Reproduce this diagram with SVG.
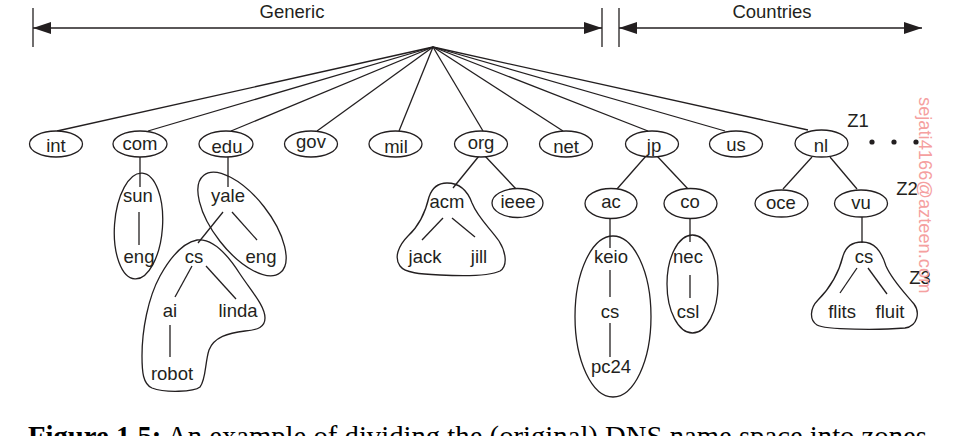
<svg xmlns="http://www.w3.org/2000/svg" width="970" height="436" viewBox="0 0 970 436">
<style>
  .ln { stroke: #231f20; stroke-width: 1.3; fill: none; }
  .nd { stroke: #231f20; stroke-width: 1.3; fill: #ffffff; }
  .zn { stroke: #231f20; stroke-width: 1.3; fill: none; }
  .t { font-family: "Liberation Sans", Arial, sans-serif; font-size: 18.5px; fill: #231f20; text-anchor: middle; }
  .z { font-family: "Liberation Sans", Arial, sans-serif; font-size: 18.5px; fill: #231f20; text-anchor: middle; }
  .wm { font-family: "Liberation Sans", Arial, sans-serif; font-size: 18.3px; fill: #f5a0a0; }
  .cap { font-family: "Liberation Serif", "Times New Roman", serif; font-size: 28.7px; fill: #000000; }
</style>
<defs>
  <marker id="ah" viewBox="0 0 18 12" refX="18" refY="6" markerWidth="18" markerHeight="12" markerUnits="userSpaceOnUse" orient="auto-start-reverse">
    <path d="M0,0 L18,6 L0,12 Z" fill="#231f20"/>
  </marker>
</defs>
<rect x="0" y="0" width="970" height="436" fill="#ffffff"/>

<g id="scope-arrows">
  <line class="ln" x1="33" y1="8" x2="33" y2="47"/>
  <line class="ln" x1="602" y1="8" x2="602" y2="47"/>
  <line class="ln" x1="619" y1="8" x2="619" y2="47"/>
  <line class="ln" x1="33" y1="28" x2="602" y2="28" marker-start="url(#ah)" marker-end="url(#ah)"/>
  <line class="ln" x1="619" y1="28" x2="922" y2="28" marker-start="url(#ah)" marker-end="url(#ah)"/>
  <text class="t" x="292" y="18">Generic</text>
  <text class="t" x="772" y="18">Countries</text>
</g>

<g id="connectors">
  <line class="ln" x1="433" y1="47" x2="57" y2="131"/>
  <line class="ln" x1="433" y1="47" x2="148" y2="131"/>
  <line class="ln" x1="433" y1="47" x2="231" y2="131"/>
  <line class="ln" x1="433" y1="47" x2="317" y2="131"/>
  <line class="ln" x1="433" y1="47" x2="399" y2="131"/>
  <line class="ln" x1="433" y1="47" x2="483" y2="131"/>
  <line class="ln" x1="433" y1="47" x2="563" y2="131"/>
  <line class="ln" x1="433" y1="47" x2="648" y2="131"/>
  <line class="ln" x1="433" y1="47" x2="725" y2="131"/>
  <line class="ln" x1="433" y1="47" x2="808" y2="130"/>
  <!-- com subtree -->
  <line class="ln" x1="140" y1="157" x2="140" y2="187"/>
  <line class="ln" x1="139" y1="212" x2="139" y2="245"/>
  <!-- edu subtree -->
  <line class="ln" x1="228" y1="157" x2="228" y2="187"/>
  <line class="ln" x1="223" y1="212" x2="198" y2="243"/>
  <line class="ln" x1="232" y1="212" x2="257" y2="240"/>
  <line class="ln" x1="192" y1="266" x2="175" y2="297"/>
  <line class="ln" x1="206" y1="266" x2="236" y2="299"/>
  <line class="ln" x1="170" y1="325" x2="170" y2="357"/>
  <!-- org subtree -->
  <line class="ln" x1="479" y1="156" x2="453" y2="188"/>
  <line class="ln" x1="485" y1="156" x2="517" y2="190"/>
  <line class="ln" x1="443" y1="218" x2="422" y2="240"/>
  <line class="ln" x1="452" y1="218" x2="475" y2="237"/>
  <!-- jp subtree -->
  <line class="ln" x1="646" y1="156" x2="617" y2="189"/>
  <line class="ln" x1="657" y1="156" x2="688" y2="189"/>
  <line class="ln" x1="610" y1="218" x2="610" y2="248"/>
  <line class="ln" x1="610" y1="270" x2="610" y2="297"/>
  <line class="ln" x1="610" y1="323" x2="610" y2="357"/>
  <line class="ln" x1="690" y1="218" x2="690" y2="242"/>
  <line class="ln" x1="690" y1="275" x2="690" y2="298"/>
  <!-- nl subtree -->
  <line class="ln" x1="812" y1="157" x2="783" y2="189"/>
  <line class="ln" x1="830" y1="157" x2="857" y2="189"/>
  <line class="ln" x1="862" y1="217" x2="862" y2="243"/>
  <line class="ln" x1="857" y1="268" x2="840" y2="293"/>
  <line class="ln" x1="868" y1="268" x2="887" y2="294"/>
</g>

<g id="zones">
  <ellipse id="zone-sun" class="zn" cx="138.5" cy="226" rx="24" ry="53" transform="rotate(4 138.5 226)"/>
  <ellipse id="zone-yale" class="zn" cx="242" cy="224" rx="62" ry="28" transform="rotate(52 242 224)"/>
  <path id="zone-cs" class="zn" d="M197,240 C212,238 226,252 240,274 C252,292 265,306 265,318 C265,327 258,330 245,331 C228,333 214,337 209,350 C205,362 206,380 200,387 C194,392 165,393 152,388 C143,384 142,372 142,356 C142,330 148,298 160,276 C170,258 182,243 197,240 Z"/>
  <path id="zone-acm" class="zn" d="M447,183 C438,183 432,188 429,197 C426,210 420,225 408,236 C398,246 394,258 400,266 C405,273 420,274 440,275 C460,276 490,276 500,271 C508,266 506,252 499,241 C490,228 478,218 472,203 C468,192 460,183 447,183 Z"/>
  <ellipse id="zone-keio" class="zn" cx="613" cy="316.5" rx="38" ry="80.5"/>
  <ellipse id="zone-nec" class="zn" cx="692.5" cy="284" rx="25.5" ry="49"/>
  <path id="zone-vucs" class="zn" d="M862,242 C852,242 846,246 843,256 C839,272 830,288 818,300 C810,308 809,320 817,325 C825,330 880,330 905,328 C918,326 920,312 914,304 C904,292 892,280 886,266 C881,250 874,242 862,242 Z"/>
</g>

<g id="node-int"><ellipse class="nd" cx="56" cy="144" rx="26.5" ry="13"/><text class="t" x="56" y="152">int</text></g>
<g id="node-com"><ellipse class="nd" cx="140" cy="144" rx="27" ry="13"/><text class="t" x="140" y="150">com</text></g>
<g id="node-edu"><ellipse class="nd" cx="226" cy="144" rx="27" ry="13"/><text class="t" x="227" y="153">edu</text></g>
<g id="node-gov"><ellipse class="nd" cx="311" cy="144" rx="26.5" ry="13"/><text class="t" x="311" y="148">gov</text></g>
<g id="node-mil"><ellipse class="nd" cx="395.5" cy="144" rx="26.5" ry="13"/><text class="t" x="396" y="153">mil</text></g>
<g id="node-org"><ellipse class="nd" cx="481" cy="144" rx="26.5" ry="13"/><text class="t" x="481" y="149">org</text></g>
<g id="node-net"><ellipse class="nd" cx="566" cy="144" rx="26.5" ry="13"/><text class="t" x="566" y="153">net</text></g>
<g id="node-jp"><ellipse class="nd" cx="652" cy="144" rx="26.5" ry="13"/><text class="t" x="654" y="152">jp</text></g>
<g id="node-us"><ellipse class="nd" cx="736" cy="144" rx="26.5" ry="13"/><text class="t" x="736" y="151">us</text></g>
<g id="node-nl"><ellipse class="nd" cx="821.5" cy="143.5" rx="26.5" ry="13.5"/><text class="t" x="821" y="152">nl</text></g>

<g id="node-sun"><text class="t" x="138" y="202">sun</text></g>
<g id="node-com-eng"><text class="t" x="139" y="263">eng</text></g>
<g id="node-yale"><text class="t" x="228" y="202">yale</text></g>
<g id="node-yale-eng"><text class="t" x="261" y="263">eng</text></g>
<g id="node-yale-cs"><text class="t" x="194" y="263">cs</text></g>
<g id="node-ai"><text class="t" x="170" y="317">ai</text></g>
<g id="node-linda"><text class="t" x="238" y="317">linda</text></g>
<g id="node-robot"><text class="t" x="172" y="380">robot</text></g>

<g id="node-acm"><text class="t" x="447" y="208">acm</text></g>
<g id="node-jack"><text class="t" x="425" y="263">jack</text></g>
<g id="node-jill"><text class="t" x="479" y="263">jill</text></g>
<g id="node-ieee"><ellipse class="nd" cx="517.5" cy="203" rx="25.5" ry="14.5"/><text class="t" x="518" y="208">ieee</text></g>

<g id="node-ac"><ellipse class="nd" cx="611" cy="203.5" rx="26" ry="15"/><text class="t" x="611" y="208">ac</text></g>
<g id="node-co"><ellipse class="nd" cx="690.5" cy="203.5" rx="26.5" ry="15"/><text class="t" x="690" y="208">co</text></g>
<g id="node-keio"><text class="t" x="611" y="263">keio</text></g>
<g id="node-keio-cs"><text class="t" x="610" y="318">cs</text></g>
<g id="node-pc24"><text class="t" x="611" y="373">pc24</text></g>
<g id="node-nec"><text class="t" x="688" y="263">nec</text></g>
<g id="node-csl"><text class="t" x="688" y="318">csl</text></g>

<g id="node-oce"><ellipse class="nd" cx="781.5" cy="203.5" rx="26.5" ry="13.5"/><text class="t" x="781" y="209">oce</text></g>
<g id="node-vu"><ellipse class="nd" cx="861" cy="203.5" rx="26.5" ry="13.5"/><text class="t" x="861" y="209">vu</text></g>
<g id="node-vu-cs"><text class="t" x="864" y="263">cs</text></g>
<g id="node-flits"><text class="t" x="842" y="318">flits</text></g>
<g id="node-fluit"><text class="t" x="890" y="318">fluit</text></g>

<g id="zone-labels">
  <text class="z" x="858" y="127">Z1</text>
  <text class="z" x="907" y="195">Z2</text>
  <text class="z" x="920" y="284">Z3</text>
  <circle cx="872" cy="142" r="2.6" fill="#231f20"/>
  <circle cx="894" cy="142" r="2.6" fill="#231f20"/>
  <circle cx="916" cy="142" r="2.6" fill="#231f20"/>
</g>

<text class="wm" transform="translate(919,97) rotate(90)" x="0" y="0">sejati4166@azteen.com</text>

<text class="cap" x="28" y="446"><tspan font-weight="bold">Figure 1.5:</tspan> An example of dividing the (original) DNS name space into zones</text>
</svg>
